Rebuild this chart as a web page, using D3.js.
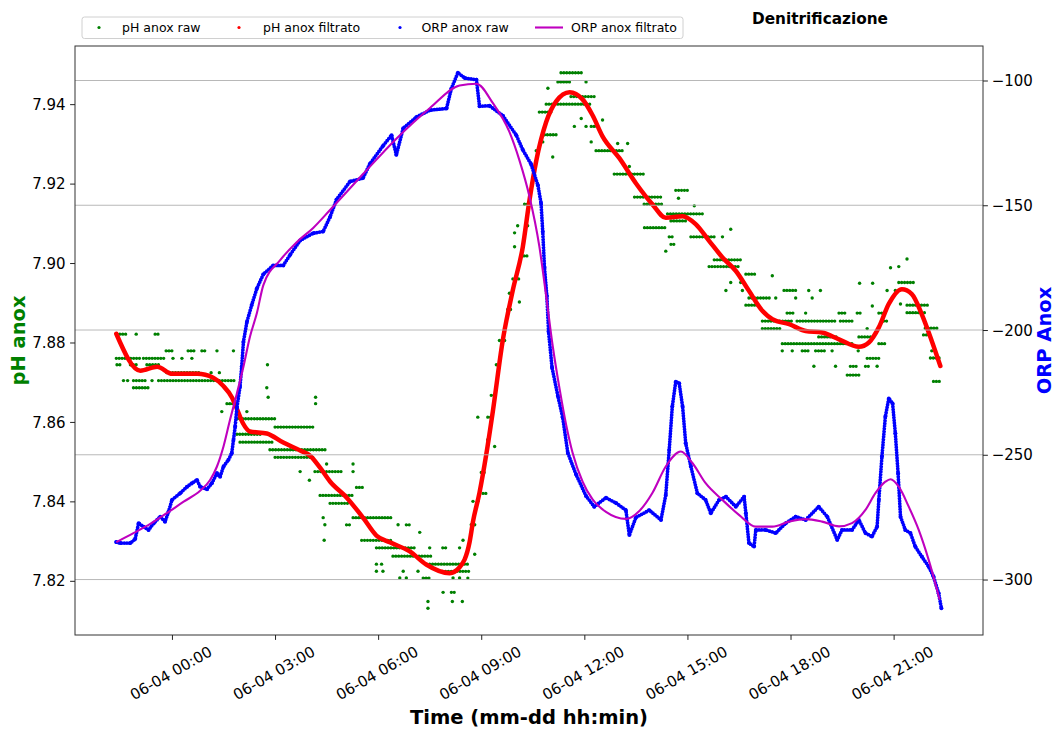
<!DOCTYPE html>
<html>
<head>
<meta charset="utf-8">
<script src="https://cdn.jsdelivr.net/npm/d3@7"></script>
<style>
  body { margin: 0; background: #fff; }
  svg { font-family: "DejaVu Sans", sans-serif; display: block; }
</style>
</head>
<body>
<div id="visualization"></div>
<script>
// hours from 06-04 00:00
const phFiltered = [
  [-1.62,7.8822],[-0.92,7.8729],[-0.43,7.8739],[0.01,7.8721],[0.74,7.8721],[1.20,7.8711],[1.49,7.8691],
  [1.75,7.8661],[1.89,7.8633],[2.07,7.8596],[2.27,7.8576],[2.76,7.8571],[3.24,7.8548],[3.73,7.8528],
  [4.02,7.8515],[4.31,7.8485],[4.60,7.8450],[5.08,7.8410],[5.56,7.8359],[5.95,7.8314],[6.34,7.8297],
  [6.92,7.8274],[7.40,7.8241],[8.08,7.8219],[8.37,7.8234],[8.66,7.8297],[8.76,7.8349],[8.95,7.8422],
  [9.15,7.8520],[9.34,7.8628],[9.63,7.8807],[9.92,7.8932],[10.21,7.9041],[10.40,7.9156],[10.60,7.9257],
  [10.89,7.9355],[11.18,7.9407],[11.57,7.9430],[11.95,7.9412],[12.24,7.9372],[12.53,7.9319],[13.02,7.9264],
  [13.50,7.9201],[13.98,7.9148],[14.37,7.9114],[14.86,7.9118],[15.24,7.9098],[15.63,7.9056],[16.02,7.9014],
  [16.41,7.8980],[16.79,7.8930],[17.18,7.8880],[17.47,7.8859],[17.96,7.8846],[18.44,7.8829],[18.92,7.8825],
  [19.41,7.8808],[19.99,7.8789],[20.28,7.8800],[20.57,7.8838],[20.86,7.8897],[21.24,7.8934],[21.53,7.8922],
  [21.82,7.8871],[22.11,7.8804],[22.36,7.8741]
];

const orpFiltered = [
  [-1.62,-285.0],[-1.12,-281.4],[-0.63,-277.7],[-0.15,-273.4],[0.34,-268.8],[0.82,-264.4],[1.11,-260.1],
  [1.31,-254.7],[1.50,-246.7],[1.69,-236.0],[1.89,-225.4],[2.08,-214.7],[2.27,-202.7],[2.47,-193.3],
  [2.66,-182.0],[3.15,-172.0],[3.63,-164.8],[4.11,-159.1],[4.60,-151.9],[5.56,-137.5],[6.53,-123.3],
  [7.50,-111.1],[8.37,-102.0],[8.86,-101.3],[9.34,-109.1],[9.82,-120.6],[10.11,-131.9],[10.40,-146.3],
  [10.69,-166.4],[10.89,-186.4],[11.08,-206.4],[11.28,-223.6],[11.47,-237.9],[11.66,-249.3],[11.95,-260.8],
  [12.24,-267.9],[12.63,-272.9],[13.21,-275.7],[13.60,-272.5],[13.98,-265.3],[14.37,-254.7],[14.81,-248.7],
  [15.15,-253.4],[15.53,-261.4],[16.02,-268.1],[16.50,-274.1],[16.99,-278.8],[17.47,-278.8],[17.96,-276.8],
  [18.44,-275.8],[18.92,-276.8],[19.41,-278.7],[19.79,-277.4],[20.18,-272.1],[20.47,-265.4],[20.76,-260.8],
  [20.91,-259.8],[21.15,-262.8],[21.44,-270.8],[21.73,-280.1],[22.02,-292.1],[22.34,-308.1]
];

const orpRaw = [
  [-1.62,-285.0],[-1.50,-285.4],[-1.21,-285.4],[-1.07,-283.8],[-0.97,-277.4],[-0.83,-278.8],[-0.68,-280.1],
  [-0.53,-277.4],[-0.34,-274.8],[-0.20,-276.8],[-0.10,-272.8],[0.00,-268.1],[0.24,-265.4],[0.44,-262.8],
  [0.58,-261.4],[0.73,-260.1],[0.82,-262.8],[1.02,-263.8],[1.16,-261.4],[1.31,-257.4],[1.40,-258.8],
  [1.50,-254.7],[1.64,-252.1],[1.74,-249.4],[1.79,-244.1],[1.84,-238.7],[1.89,-231.2],[1.98,-222.7],
  [2.03,-214.7],[2.08,-204.8],[2.18,-196.8],[2.32,-190.0],[2.47,-183.4],[2.66,-177.6],[2.95,-174.1],
  [3.24,-174.1],[3.44,-169.8],[3.73,-164.1],[4.11,-161.2],[4.40,-160.5],[4.60,-154.7],[4.79,-147.7],
  [5.18,-140.5],[5.56,-139.1],[5.76,-133.4],[6.14,-126.2],[6.39,-121.9],[6.53,-129.8],[6.73,-119.1],
  [7.11,-114.7],[7.50,-111.9],[7.99,-111.2],[8.13,-103.3],[8.32,-96.9],[8.52,-99.0],[8.86,-99.7],
  [8.95,-110.3],[9.24,-110.1],[9.63,-114.1],[10.02,-121.9],[10.21,-127.8],[10.45,-133.5],[10.65,-142.0],
  [10.74,-149.1],[10.79,-160.6],[10.84,-174.9],[10.91,-186.4],[10.96,-200.7],[11.06,-215.0],[11.23,-226.4],
  [11.37,-235.0],[11.52,-249.3],[11.76,-257.9],[12.05,-266.5],[12.29,-270.8],[12.63,-267.2],[12.92,-269.3],
  [13.21,-272.2],[13.31,-282.2],[13.50,-275.1],[13.89,-272.2],[14.23,-276.1],[14.37,-266.1],[14.47,-248.1],
  [14.56,-230.7],[14.66,-220.7],[14.76,-221.3],[14.86,-230.7],[14.95,-245.4],[15.10,-254.7],[15.29,-265.4],
  [15.53,-268.1],[15.68,-273.4],[15.92,-268.1],[16.12,-266.8],[16.41,-270.8],[16.65,-266.8],[16.70,-273.4],
  [16.79,-285.4],[16.94,-286.8],[16.99,-280.1],[17.28,-280.1],[17.57,-281.4],[17.86,-277.4],[18.15,-274.8],
  [18.44,-276.1],[18.82,-270.8],[19.07,-274.8],[19.36,-284.1],[19.50,-280.1],[19.79,-280.1],[19.99,-276.1],
  [20.18,-281.4],[20.37,-282.8],[20.52,-278.8],[20.57,-268.1],[20.66,-250.7],[20.76,-234.7],[20.86,-227.4],
  [20.97,-229.4],[21.05,-241.4],[21.13,-257.4],[21.20,-274.8],[21.34,-280.1],[21.49,-281.4],[21.63,-286.8],
  [21.82,-290.8],[22.02,-294.8],[22.16,-298.8],[22.31,-305.5],[22.39,-311.5]
];

// raw pH: runs of samples at one level [start hour, end hour, pH]
const phRawRuns = [
  [-1.60,-1.31,7.8821],[-1.04,-1.04,7.8821],[-0.49,-0.39,7.8821],
  [-0.17,0.00,7.8779],[0.47,0.68,7.8779],[0.87,1.02,7.8779],[1.31,1.31,7.8779],[1.79,1.79,7.8779],
  [-1.62,-0.92,7.8760],[-0.83,-0.19,7.8760],[0.03,0.03,7.8760],[0.29,0.29,7.8760],[0.58,0.58,7.8760],
  [-1.60,-1.50,7.8744],[-1.21,-1.02,7.8744],[-0.73,-0.39,7.8744],[2.78,2.78,7.8744],
  [-0.15,0.82,7.8724],[1.14,1.14,7.8724],[1.38,1.38,7.8724],
  [-1.41,-1.41,7.8704],[-1.29,-1.29,7.8704],[-1.12,-0.73,7.8704],[-0.58,-0.58,7.8704],[-0.39,1.84,7.8704],
  [-1.12,-0.68,7.8686],[2.76,2.76,7.8686],
  [2.80,2.80,7.8662],[4.18,4.18,7.8662],
  [1.60,1.89,7.8646],[4.18,4.18,7.8646],
  [1.45,1.45,7.8626],[2.18,2.18,7.8626],
  [1.89,3.00,7.8608],[3.00,4.11,7.8587],[1.89,2.61,7.8569],[1.98,2.95,7.8549],
  [2.85,4.50,7.8530],[3.00,4.11,7.8511],
  [4.50,4.50,7.8494],[5.27,5.27,7.8494],
  [3.73,3.73,7.8475],[4.16,4.98,7.8475],[5.27,5.27,7.8475],
  [4.00,4.00,7.8453],[5.37,5.56,7.8435],[4.31,5.27,7.8415],[4.60,5.18,7.8395],
  [5.27,6.43,7.8359],[4.40,4.40,7.8359],
  [4.45,4.45,7.8341],[5.08,5.23,7.8341],[6.58,6.58,7.8341],[6.82,6.97,7.8341],
  [7.21,7.21,7.8322],
  [5.52,6.43,7.8302],[4.43,4.43,7.8302],
  [5.95,7.11,7.8283],[7.50,7.50,7.8283],[7.88,7.99,7.8283],[8.37,8.37,7.8283],
  [6.43,7.55,7.8262],
  [5.95,5.95,7.8242],[6.10,6.10,7.8242],[7.50,8.66,7.8242],
  [5.95,5.95,7.8224],[6.14,6.14,7.8224],[6.73,6.73,7.8224],[7.16,7.16,7.8224],[7.79,8.66,7.8224],
  [6.63,6.63,7.8207],[6.82,6.82,7.8207],[7.31,7.50,7.8207],[8.18,8.18,7.8207],[8.37,8.37,7.8207],[8.61,8.66,7.8207],
  [7.89,7.89,7.8171],[8.13,8.28,7.8171],
  [7.45,7.45,7.8148],[8.16,8.16,7.8148],[8.45,8.45,7.8148],[7.45,7.45,7.8131],
  [8.47,8.47,7.8302],[8.61,8.61,7.8281],[8.81,8.81,7.8267],[8.71,8.71,7.8341],[8.81,8.81,7.8341],
  [8.76,8.76,7.8400],[8.90,8.90,7.8400],[9.00,9.10,7.8473],[9.05,9.15,7.8420],
  [8.90,8.90,7.8612],[9.19,9.29,7.8612],[9.19,9.19,7.8555],[9.39,9.39,7.8538],
  [9.29,9.39,7.8667],[9.44,9.44,7.8744],[9.53,9.53,7.8805],[9.68,9.68,7.8805],
  [9.77,9.92,7.8883],[9.82,9.82,7.8924],[9.92,10.11,7.8960],[10.11,10.11,7.8902],
  [9.97,9.97,7.9041],[10.16,10.40,7.9018],[9.97,9.97,7.9076],[10.06,10.06,7.9094],[10.35,10.35,7.9094],
  [10.26,10.40,7.9148],[10.55,10.55,7.9229],[10.60,10.60,7.9283],[10.79,10.79,7.9305],
  [10.84,11.18,7.9323],[10.69,11.03,7.9380],[10.89,12.24,7.9400],[11.08,11.08,7.9267],[10.94,10.94,7.9440],
  [11.32,11.95,7.9479],[11.23,11.57,7.9456],[12.05,12.05,7.9456],[11.61,12.34,7.9419],
  [11.91,11.91,7.9364],[12.53,12.53,7.9360],[11.71,11.71,7.9344],[12.05,12.05,7.9344],[12.20,12.44,7.9344],
  [12.20,12.20,7.9305],[12.97,12.97,7.9301],[13.26,13.26,7.9301],[12.34,13.11,7.9283],[13.31,13.31,7.9243],
  [12.87,13.74,7.9224],[13.46,14.23,7.9166],[13.75,14.42,7.9089],
  [14.66,15.00,7.9183],[14.74,14.74,7.9163],[13.74,14.27,7.9148],[15.20,15.20,7.9144],
  [14.42,15.49,7.9124],[14.52,14.95,7.9106],
  [15.10,15.78,7.9066],[14.47,14.56,7.9066],[16.02,16.02,7.9066],
  [14.52,14.61,7.9047],[14.37,14.37,7.9030],
  [15.78,16.55,7.9008],[16.26,16.26,7.9085],[15.63,16.50,7.8991],
  [16.26,16.26,7.8951],[16.55,16.55,7.8951],[16.70,17.03,7.8972],[17.47,17.47,7.8968],
  [16.12,16.12,7.8931],[16.60,16.60,7.8931],[17.81,18.19,7.8931],[18.53,18.53,7.8931],[18.87,18.87,7.8931],
  [16.79,17.42,7.8912],[17.57,17.57,7.8912],[18.15,18.15,7.8912],[18.63,18.63,7.8912],
  [16.70,17.08,7.8894],
  [17.90,18.10,7.8874],[18.44,18.44,7.8874],[19.41,19.60,7.8874],[19.94,20.08,7.8874],
  [17.18,18.05,7.8854],[18.19,19.31,7.8854],[19.45,19.79,7.8854],
  [17.18,17.76,7.8835],[20.23,20.23,7.8835],
  [18.82,19.41,7.8814],[19.99,20.47,7.8814],
  [17.76,19.79,7.8797],[20.57,20.81,7.8797],
  [17.76,17.76,7.8779],[18.05,18.05,7.8779],[18.34,18.53,7.8779],[18.73,19.02,7.8779],[19.21,19.21,7.8779],[19.97,19.97,7.8779],
  [18.68,18.68,7.8740],[19.31,19.31,7.8740],[19.74,19.94,7.8740],[20.18,20.28,7.8740],[20.52,20.52,7.8740],
  [20.23,20.57,7.8760],[19.65,19.99,7.8718],
  [20.38,20.38,7.8892],[20.57,20.81,7.8874],[20.01,20.01,7.8949],[20.39,20.39,7.8949],
  [20.71,20.86,7.8854],[20.81,20.81,7.8931],[21.05,21.05,7.8931],
  [20.91,20.91,7.8988],[21.15,21.15,7.8991],[21.39,21.39,7.9010],
  [21.15,21.63,7.8951],[21.20,21.20,7.8897],[21.39,22.02,7.8894],[21.39,21.97,7.8875],
  [21.92,22.26,7.8836],[21.87,22.07,7.8819],[22.11,22.11,7.8779],[22.07,22.40,7.8761],[22.16,22.36,7.8702]
];

const timeTickHours = [0, 3, 6, 9, 12, 15, 18, 21];
const phTicks = [7.82, 7.84, 7.86, 7.88, 7.90, 7.92, 7.94];
const orpTicks = [-300, -250, -200, -150, -100];
const legendLabels = ['pH anox raw', 'pH anox filtrato', 'ORP anox raw', 'ORP anox filtrato'];

const BASE_DAY = new Date(2021, 5, 4, 0, 0, 0);
const toDate = h => new Date(BASE_DAY.getTime() + h * 3600 * 1000);

const COLORS = { green: '#008000', red: '#ff0000', blue: '#0000ff', magenta: '#bf00bf' };

class DenitrificationChart {
    constructor(containerId) {
        this.container = document.getElementById(containerId);
        this.plot = { left: 75, top: 46, right: 983, bottom: 635 };

        this.svg = d3.select(this.container)
            .append('svg')
            .attr('width', 1056)
            .attr('height', 729);

        this.createScales();
        this.drawPh();
        this.drawOrp();
        this.drawAxes();
        this.drawLabels();
        this.drawLegend();
    }

    // matplotlib style 5% margins
    padded(extent) {
        const span = extent[1] - extent[0];
        return [extent[0] - span * 0.05, extent[1] + span * 0.05];
    }

    createScales() {
        const p = this.plot;
        const hours = [
            ...phFiltered.map(d => d[0]),
            ...orpRaw.map(d => d[0]),
            ...orpFiltered.map(d => d[0]),
            ...phRawRuns.map(d => d[0]),
            ...phRawRuns.map(d => d[1])
        ];
        const hExt = this.padded(d3.extent(hours));

        this.x = d3.scaleTime()
            .domain(hExt.map(toDate))
            .range([p.left, p.right]);

        const phVals = [...phRawRuns.map(d => d[2]), ...phFiltered.map(d => d[1])];
        this.yPh = d3.scaleLinear()
            .domain(this.padded(d3.extent(phVals)))
            .range([p.bottom, p.top]);

        const orpVals = [...orpRaw.map(d => d[1]), ...orpFiltered.map(d => d[1])];
        this.yOrp = d3.scaleLinear()
            .domain(this.padded(d3.extent(orpVals)))
            .range([p.bottom, p.top]);
    }

    drawPh() {
        const g = this.svg.append('g');

        // raw runs drawn as dotted strokes, single samples as dots
        g.selectAll('.run')
            .data(phRawRuns.filter(d => d[1] > d[0]))
            .enter()
            .append('line')
            .attr('class', 'run')
            .attr('x1', d => this.x(toDate(d[0])))
            .attr('x2', d => this.x(toDate(d[1])))
            .attr('y1', d => this.yPh(d[2]))
            .attr('y2', d => this.yPh(d[2]))
            .attr('stroke', COLORS.green)
            .attr('stroke-width', 3.3)
            .attr('stroke-linecap', 'round')
            .attr('stroke-dasharray', '0 2.9');

        g.selectAll('.single')
            .data(phRawRuns.filter(d => d[1] === d[0]))
            .enter()
            .append('circle')
            .attr('class', 'single')
            .attr('cx', d => this.x(toDate(d[0])))
            .attr('cy', d => this.yPh(d[2]))
            .attr('r', 1.7)
            .attr('fill', COLORS.green);

        const line = d3.line()
            .x(d => this.x(toDate(d[0])))
            .y(d => this.yPh(d[1]))
            .curve(d3.curveMonotoneX);

        g.append('path')
            .datum(phFiltered)
            .attr('d', line)
            .attr('fill', 'none')
            .attr('stroke', COLORS.red)
            .attr('stroke-width', 4.5)
            .attr('stroke-linecap', 'round')
            .attr('stroke-linejoin', 'round');
    }

    drawOrp() {
        const p = this.plot;
        const g = this.svg.append('g');

        // grid of the twin (right) axis sits above the pH layer
        g.selectAll('.grid')
            .data(orpTicks)
            .enter()
            .append('line')
            .attr('class', 'grid')
            .attr('x1', p.left)
            .attr('x2', p.right)
            .attr('y1', d => this.yOrp(d))
            .attr('y2', d => this.yOrp(d))
            .attr('stroke', '#b0b0b0')
            .attr('stroke-width', 0.9);

        const rawLine = d3.line()
            .x(d => this.x(toDate(d[0])))
            .y(d => this.yOrp(d[1]));

        // dense raw samples: beaded stroke along the trace
        g.append('path')
            .datum(orpRaw)
            .attr('d', rawLine)
            .attr('fill', 'none')
            .attr('stroke', COLORS.blue)
            .attr('stroke-width', 3.8)
            .attr('stroke-linecap', 'round')
            .attr('stroke-dasharray', '0 2.7');

        g.selectAll('.orp-raw')
            .data(orpRaw)
            .enter()
            .append('circle')
            .attr('class', 'orp-raw')
            .attr('cx', d => this.x(toDate(d[0])))
            .attr('cy', d => this.yOrp(d[1]))
            .attr('r', 2)
            .attr('fill', COLORS.blue);

        const filtLine = d3.line()
            .x(d => this.x(toDate(d[0])))
            .y(d => this.yOrp(d[1]))
            .curve(d3.curveMonotoneX);

        g.append('path')
            .datum(orpFiltered)
            .attr('d', filtLine)
            .attr('fill', 'none')
            .attr('stroke', COLORS.magenta)
            .attr('stroke-width', 2.1);
    }

    drawAxes() {
        const p = this.plot;

        this.svg.append('rect')
            .attr('x', p.left)
            .attr('y', p.top)
            .attr('width', p.right - p.left)
            .attr('height', p.bottom - p.top)
            .attr('fill', 'none')
            .attr('stroke', '#333')
            .attr('stroke-width', 1);

        const left = this.svg.append('g')
            .attr('transform', `translate(${p.left},0)`)
            .call(d3.axisLeft(this.yPh)
                .tickValues(phTicks)
                .tickFormat(d3.format('.2f'))
                .tickSizeInner(4.9)
                .tickSizeOuter(0)
                .tickPadding(4.5));

        const right = this.svg.append('g')
            .attr('transform', `translate(${p.right},0)`)
            .call(d3.axisRight(this.yOrp)
                .tickValues(orpTicks)
                .tickFormat(d3.format('d'))
                .tickSizeInner(4.9)
                .tickSizeOuter(0)
                .tickPadding(3.8));

        const bottom = this.svg.append('g')
            .attr('transform', `translate(0,${p.bottom})`)
            .call(d3.axisBottom(this.x)
                .tickValues(timeTickHours.map(toDate))
                .tickFormat(() => '')
                .tickSizeInner(4.9)
                .tickSizeOuter(0));

        [left, right, bottom].forEach(axis => {
            axis.select('.domain').remove();
            axis.attr('color', '#222')
                .attr('font-family', '"DejaVu Sans", sans-serif')
                .attr('font-size', 15);
            axis.selectAll('text').attr('fill', '#000');
        });

        left.selectAll('text').attr('dy', '0.34em');
        right.selectAll('text').attr('dy', '0.34em');

        // rotated date labels, centred under each tick
        const fmt = d3.timeFormat('%m-%d %H:%M');
        const labelY = 673;
        this.svg.append('g')
            .selectAll('text')
            .data(timeTickHours.map(toDate))
            .enter()
            .append('text')
            .attr('x', d => this.x(d) - 1)
            .attr('y', labelY)
            .attr('dy', '0.35em')
            .attr('text-anchor', 'middle')
            .attr('font-size', 15)
            .attr('fill', '#000')
            .attr('transform', d => `rotate(-30 ${this.x(d) - 1} ${labelY})`)
            .text(fmt);
    }

    drawLabels() {
        const p = this.plot;
        const midY = (p.top + p.bottom) / 2;

        this.svg.append('text')
            .attr('transform', `translate(25,${midY}) rotate(-90)`)
            .attr('text-anchor', 'middle')
            .attr('font-size', 19.5)
            .attr('font-weight', 'bold')
            .attr('fill', COLORS.green)
            .text('pH anox');

        this.svg.append('text')
            .attr('transform', `translate(1051,${midY}) rotate(-90)`)
            .attr('text-anchor', 'middle')
            .attr('font-size', 19.5)
            .attr('font-weight', 'bold')
            .attr('fill', COLORS.blue)
            .text('ORP Anox');

        this.svg.append('text')
            .attr('x', (p.left + p.right) / 2)
            .attr('y', 724)
            .attr('text-anchor', 'middle')
            .attr('font-size', 19.5)
            .attr('font-weight', 'bold')
            .attr('fill', '#000')
            .text('Time (mm-dd hh:min)');

        this.svg.append('text')
            .attr('x', 820)
            .attr('y', 24)
            .attr('text-anchor', 'middle')
            .attr('font-size', 15.3)
            .attr('font-weight', 'bold')
            .attr('fill', '#000')
            .text('Denitrificazione');
    }

    drawLegend() {
        const g = this.svg.append('g');

        g.append('rect')
            .attr('x', 82)
            .attr('y', 17)
            .attr('width', 601)
            .attr('height', 21.5)
            .attr('rx', 2.5)
            .attr('fill', '#fff')
            .attr('fill-opacity', 0.8)
            .attr('stroke', '#d0d0d0')
            .attr('stroke-width', 1);

        const items = [
            { label: legendLabels[0], color: COLORS.green, kind: 'dot', mx: 99, tx: 122 },
            { label: legendLabels[1], color: COLORS.red, kind: 'dot', mx: 239, tx: 263 },
            { label: legendLabels[2], color: COLORS.blue, kind: 'dot', mx: 400, tx: 421.5 },
            { label: legendLabels[3], color: COLORS.magenta, kind: 'line', mx: 549, tx: 571 }
        ];

        items.forEach(item => {
            if (item.kind === 'dot') {
                g.append('circle')
                    .attr('cx', item.mx)
                    .attr('cy', 27.5)
                    .attr('r', 1.6)
                    .attr('fill', item.color);
            } else {
                g.append('line')
                    .attr('x1', item.mx - 14)
                    .attr('x2', item.mx + 14)
                    .attr('y1', 27.5)
                    .attr('y2', 27.5)
                    .attr('stroke', item.color)
                    .attr('stroke-width', 2.1);
            }
            g.append('text')
                .attr('x', item.tx)
                .attr('y', 32)
                .attr('font-size', 12.5)
                .attr('fill', '#000')
                .text(item.label);
        });
    }
}

document.addEventListener('DOMContentLoaded', () => {
    new DenitrificationChart('visualization');
});
</script>
</body>
</html>
